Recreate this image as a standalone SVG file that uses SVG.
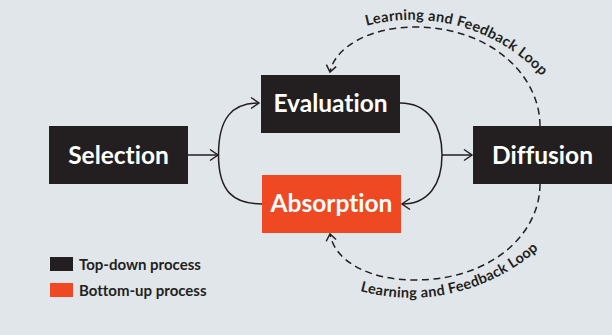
<svg xmlns="http://www.w3.org/2000/svg" width="612" height="335" viewBox="0 0 612 335">
  <defs>
    <style>
      .box{fill:#231f20}
      .orange{fill:#ee4923}
      text{font-variant-ligatures:none;font-feature-settings:"liga" 0,"clig" 0}
      .nt{font-family:Lato,"Liberation Sans",sans-serif;font-weight:700;font-size:24.5px;fill:#ffffff;text-anchor:middle}
      .lt{font-family:Lato,"Liberation Sans",sans-serif;font-weight:700;font-size:15px;fill:#231f20}
      .loop{font-family:Lato,"Liberation Sans",sans-serif;font-weight:700;font-size:14.5px;letter-spacing:0.3px;fill:#231f20}
      .c{fill:none;stroke:#231f20;stroke-width:1.5}
      .d{fill:none;stroke:#231f20;stroke-width:1.5;stroke-dasharray:7 4.5}
    </style>
    <marker id="ah" markerUnits="userSpaceOnUse" markerWidth="20" markerHeight="20" refX="10" refY="10" orient="auto" overflow="visible">
      <path d="M2,4.5 L10,10 L2,15.5" fill="none" stroke="#231f20" stroke-width="1.5" stroke-dasharray="none"/>
    </marker>
    <marker id="ahd" markerUnits="userSpaceOnUse" markerWidth="20" markerHeight="20" refX="10" refY="10" orient="auto" overflow="visible">
      <path d="M3.5,5 L10,10 L3.5,15" fill="none" stroke="#231f20" stroke-width="1.5" stroke-dasharray="none"/>
    </marker>
    <path id="tp1" d="M366.7,25.7 A177.6,177.6 0 0 1 565.8,108.7"/>
    <path id="tp2" d="M360,291 A193,193 0 0 0 585.3,186.4"/>
  </defs>
  <rect width="612" height="335" fill="#e1e6ea"/>

  <g id="connectors">
    <path class="c" d="M188,155 L218,155" marker-end="url(#ah)"/>
    <path class="c" d="M218.5,155 C218.5,118 232,103 259,103" marker-end="url(#ah)"/>
    <path class="c" d="M218.5,155 C218.5,192 234,204 262,204"/>
    <path class="c" d="M400,103 C428,103 442,125 442,155 C442,185 428,204 402,204" marker-end="url(#ah)"/>
    <path class="c" d="M442,155 L472,155" marker-end="url(#ah)"/>
    <path class="d" d="M540,126 C540,75 490,27 415,27 C370,27 335,47 330,72" marker-end="url(#ahd)"/>
    <path class="d" d="M540,184 C540,235 490,280 415,280 C370,280 335,262 330,234" marker-end="url(#ahd)"/>
    <text class="loop"><textPath href="#tp1">Learning and Feedback Loop</textPath></text>
    <text class="loop"><textPath href="#tp2">Learning and Feedback Loop</textPath></text>
  </g>

  <g id="selection">
    <rect class="box" x="49" y="126" width="139" height="58"/>
    <text class="nt" x="118.5" y="163.5">Selection</text>
  </g>
  <g id="evaluation">
    <rect class="box" x="261" y="75" width="139" height="58"/>
    <text class="nt" x="330.5" y="112">Evaluation</text>
  </g>
  <g id="absorption">
    <rect class="orange" x="262" y="175" width="139" height="58"/>
    <text class="nt" x="331.5" y="212">Absorption</text>
  </g>
  <g id="diffusion">
    <rect class="box" x="473" y="126" width="139" height="58"/>
    <text class="nt" x="542.5" y="163.5">Diffusion</text>
  </g>

  <g id="legend">
    <rect class="box" x="50" y="257" width="23" height="14"/>
    <text class="lt" x="79" y="269.5">Top-down process</text>
    <rect class="orange" x="50" y="283" width="23" height="14"/>
    <text class="lt" x="79" y="295.5">Bottom-up process</text>
  </g>
</svg>
